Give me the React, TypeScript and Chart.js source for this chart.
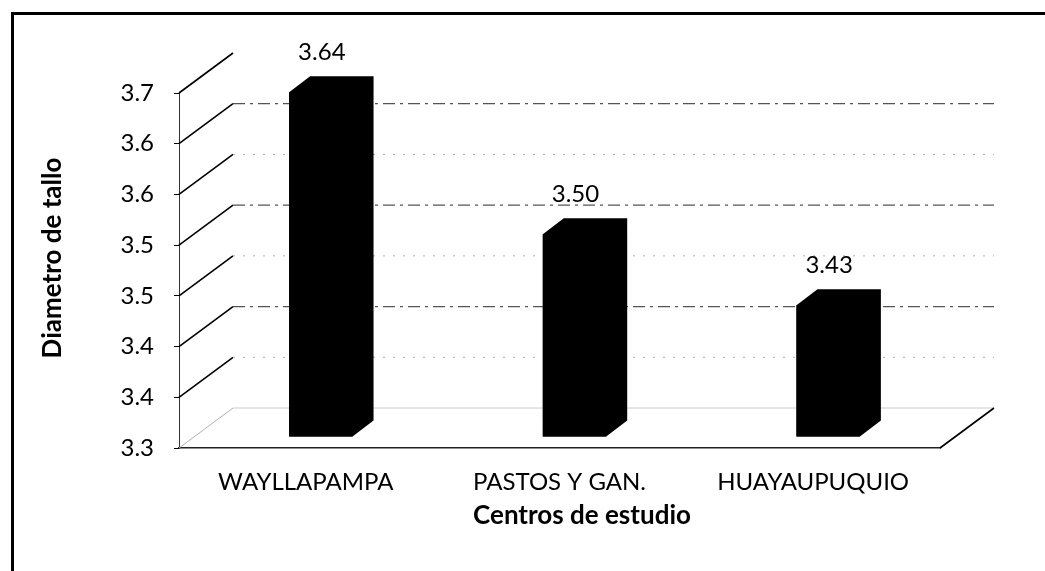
import React, { useEffect, useRef } from "react";
import { Chart, registerables } from "chart.js";

Chart.register(...registerables);

const categories = ["WAYLLAPAMPA", "PASTOS Y GAN.", "HUAYAUPUQUIO"];
const diametro = [3.64, 3.5, 3.43];
const valueLabels = ["3.64", "3.50", "3.43"];
const tickValues = [3.3, 3.35, 3.4, 3.45, 3.5, 3.55, 3.6, 3.65];
const tickLabels = ["3.3", "3.4", "3.4", "3.5", "3.5", "3.6", "3.6", "3.7"];
const yTitle = "Diametro de tallo";
const xTitle = "Centros de estudio";

const FONT = "Lato, 'Open Sans', sans-serif";
const WALL_DX = 54;
const WALL_DY = -40;
const BAR_OFF_X = 15;
const BAR_OFF_Y = -11;
const BAR_DX = 21;
const BAR_DY = -16;

function line(ctx: CanvasRenderingContext2D, x1: number, y1: number, x2: number, y2: number) {
  ctx.beginPath();
  ctx.moveTo(x1, y1);
  ctx.lineTo(x2, y2);
  ctx.stroke();
}

const depthPlugin = {
  id: "depth3d",
  beforeDraw(chart: any) {
    const ctx = chart.ctx as CanvasRenderingContext2D;
    ctx.save();
    ctx.fillStyle = "#ffffff";
    ctx.fillRect(0, 0, chart.width, chart.height);
    ctx.strokeStyle = "#000";
    ctx.lineWidth = 3;
    ctx.beginPath();
    ctx.moveTo(12.5, chart.height + 5);
    ctx.lineTo(12.5, 13.5);
    ctx.lineTo(chart.width + 5, 13.5);
    ctx.stroke();
    ctx.restore();
  },
  beforeDatasetsDraw(chart: any) {
    const ctx = chart.ctx as CanvasRenderingContext2D;
    const { left, right, bottom } = chart.chartArea;
    const y = chart.scales.y;
    ctx.save();
    tickValues.forEach((v, i) => {
      const fy = y.getPixelForValue(v);
      const by = fy + WALL_DY;
      ctx.setLineDash([]);
      ctx.strokeStyle = i === 0 ? "#b0b0b0" : "#000";
      ctx.lineWidth = i === 0 ? 1 : 1.6;
      line(ctx, left, fy, left + WALL_DX, by);
      if (i === tickValues.length - 1) return;
      if (i === 0) {
        ctx.strokeStyle = "#cccccc";
        ctx.lineWidth = 1;
        ctx.setLineDash([]);
      } else if (i % 2 === 0) {
        ctx.strokeStyle = "#555";
        ctx.lineWidth = 1.2;
        ctx.setLineDash([12, 5, 3, 5]);
      } else {
        ctx.strokeStyle = "#aaa";
        ctx.lineWidth = 1;
        ctx.setLineDash([2, 8]);
      }
      line(ctx, left + WALL_DX, by, right + WALL_DX, by);
    });
    ctx.setLineDash([]);
    ctx.strokeStyle = "#000";
    ctx.lineWidth = 1.6;
    line(ctx, right, bottom, right + WALL_DX, bottom + WALL_DY);
    ctx.restore();
    ctx.save();
    ctx.translate(BAR_OFF_X, BAR_OFF_Y);
  },
  afterDatasetsDraw(chart: any) {
    const ctx = chart.ctx as CanvasRenderingContext2D;
    const meta = chart.getDatasetMeta(0);
    meta.data.forEach((el: any, i: number) => {
      const { x, y, base, width } = el.getProps(["x", "y", "base", "width"], true);
      const xl = x - width / 2;
      const xr = x + width / 2;
      ctx.fillStyle = "#000";
      ctx.beginPath();
      ctx.moveTo(xl, base);
      ctx.lineTo(xl, y);
      ctx.lineTo(xl + BAR_DX, y + BAR_DY);
      ctx.lineTo(xr + BAR_DX, y + BAR_DY);
      ctx.lineTo(xr + BAR_DX, base + BAR_DY);
      ctx.lineTo(xr, base);
      ctx.closePath();
      ctx.fill();
      ctx.font = `24px ${FONT}`;
      ctx.textAlign = "center";
      ctx.textBaseline = "middle";
      ctx.fillText(valueLabels[i], x + 1, y - 40);
    });
    ctx.restore();
  },
  afterDraw(chart: any) {
    const ctx = chart.ctx as CanvasRenderingContext2D;
    ctx.save();
    ctx.fillStyle = "#000";
    ctx.font = `bold 26px ${FONT}`;
    ctx.textAlign = "center";
    ctx.textBaseline = "middle";
    ctx.fillText(xTitle, 582, 516);
    ctx.translate(53, 258);
    ctx.rotate(-Math.PI / 2);
    ctx.fillText(yTitle, 0, 0);
    ctx.restore();
  },
};

export default function App() {
  const ref = useRef<HTMLCanvasElement | null>(null);
  useEffect(() => {
    if (!ref.current) return;
    const chart = new Chart(ref.current, {
      type: "bar",
      data: {
        labels: categories,
        datasets: [
          {
            data: diametro,
            base: 3.3,
            backgroundColor: "#000",
            borderWidth: 0,
            categoryPercentage: 1,
            barPercentage: 0.25,
            clip: false as any,
          } as any,
        ],
      },
      options: {
        animation: false,
        responsive: true,
        maintainAspectRatio: false,
        layout: { padding: { left: 12, top: 93, right: 105, bottom: 0 } },
        plugins: { legend: { display: false }, tooltip: { enabled: false } },
        scales: {
          y: {
            min: 3.3,
            max: 3.65,
            afterBuildTicks: (s: any) => {
              s.ticks = tickValues.map((v) => ({ value: v }));
            },
            afterFit: (s: any) => {
              s.width = 167;
            },
            ticks: {
              callback: (_v: any, i: number) => tickLabels[i],
              padding: 20,
              color: "#000",
              font: { family: FONT, size: 24 },
            },
            grid: { drawOnChartArea: false, drawTicks: true, tickLength: 5, color: "#000" },
            border: { display: true, color: "#333", width: 1 },
          },
          x: {
            afterFit: (s: any) => {
              s.height = 123;
            },
            ticks: {
              color: "#000",
              padding: 20,
              font: { family: FONT, size: 24 },
              maxRotation: 0,
            },
            grid: { display: false, drawTicks: false },
            border: { display: true, color: "#222", width: 1.5 },
          },
        },
      },
      plugins: [depthPlugin],
    });
    return () => chart.destroy();
  }, []);
  return (
    <div style={{ position: "fixed", left: 0, top: 0, width: 1045, height: 571, background: "#fff" }}>
      <canvas ref={ref} />
    </div>
  );
}
